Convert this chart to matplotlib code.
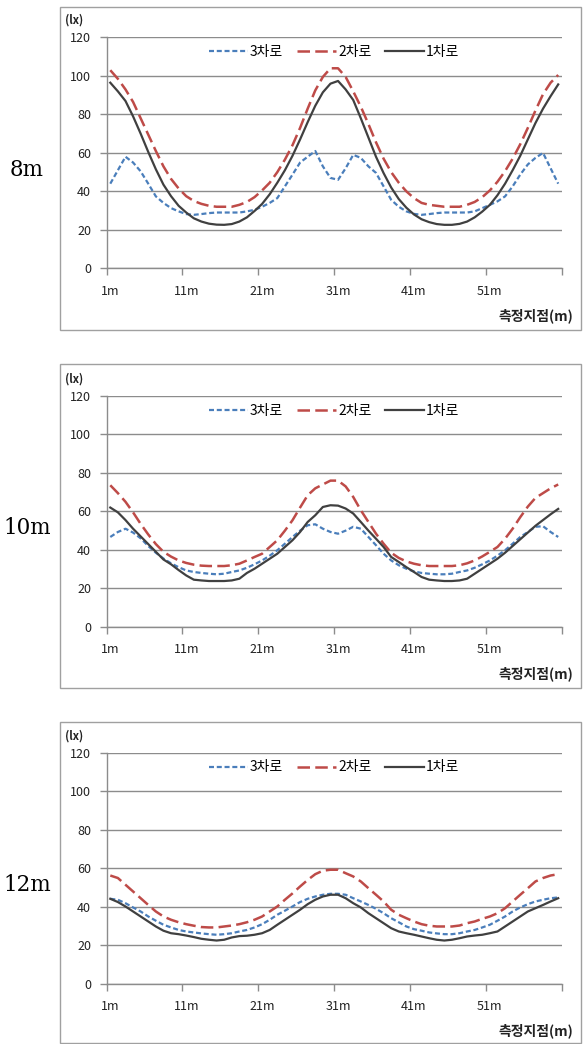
import matplotlib
matplotlib.use("Agg")
import matplotlib.pyplot as plt
from matplotlib.patches import Rectangle
import numpy as np

plt.rcParams["font.family"] = ["Noto Sans CJK KR", "DejaVu Sans"]
plt.rcParams["lines.scale_dashes"] = False

# illuminance (lx) along the measurement points 1m..60m, per pole height
points = list(range(1, 61))
heights = ["8m", "10m", "12m"]
lane_names = ["3차로", "2차로", "1차로"]
x_labels = ["1m", "11m", "21m", "31m", "41m", "51m"]
y_ticks = [0, 20, 40, 60, 80, 100, 120]

lane3_8m = [44, 51, 58, 55, 50.4, 44, 37.4, 34, 31.3, 29.6,
            28.2, 27.8, 28.2, 28.7, 29, 29, 29, 29, 29.6, 30.4,
            32, 34, 36.5, 42.6, 48.7, 55, 58, 61, 53, 47,
            46, 52, 59, 57.4, 53, 49.6, 42.6, 35.6, 32, 29.6,
            28.3, 27.8, 28.2, 28.7, 29, 29, 29, 29, 29.6, 31.3,
            33, 34.8, 37.4, 42.6, 48.7, 54, 57.4, 60, 52, 44]
lane2_8m = [103, 98.5, 93, 86.5, 78, 69.5, 61, 53, 46.5, 41.5,
            37.5, 35, 33.5, 32.5, 32, 32, 32, 33, 34.5, 37,
            40.5, 44.5, 50, 56.5, 64, 73, 83, 92.5, 99.5, 104,
            104, 99.5, 92, 84, 75, 65.5, 57, 50, 44.5, 40,
            36.5, 34, 33, 32.5, 32, 32, 32, 33, 34.5, 37,
            40.5, 45, 50.5, 57, 64.5, 73, 82, 90.5, 96.5, 100.5]
lane1_8m = [96.5, 92, 87, 79, 70, 60.5, 51.5, 43.5, 37.5, 32.5,
            29, 26, 24.3, 23.2, 22.7, 22.6, 23, 24.3, 26.5, 29.8,
            33.5, 38.5, 44.5, 51, 58.5, 67, 76, 84.5, 91.5, 96,
            97.4, 93, 87.5, 78, 68, 58, 49.5, 42, 36, 31.5,
            28, 25.5, 24, 23, 22.6, 22.6, 23.1, 24.3, 26.5, 29.5,
            33, 38, 44, 51, 58.5, 67, 75.5, 83, 89.5, 95.6]

lane3_10m = [46.7, 49.3, 51, 49, 46, 42, 38.5, 35.5, 33, 31,
             29.3, 28.5, 28, 27.6, 27.3, 27.6, 28.5, 29.3, 30.7, 32.5,
             34.5, 37, 39.8, 43.2, 46.7, 50, 52.8, 53.3, 51, 49.3,
             48.4, 50, 52, 51, 46.7, 42.4, 38, 34.5, 32, 30.2,
             28.8, 28, 27.6, 27.3, 27.3, 27.6, 28.5, 29.3, 30.7, 32.5,
             34.5, 37, 39.8, 43.2, 46.7, 49.3, 52, 52.3, 49.3, 46.7]
lane2_10m = [73.6, 69.5, 65, 59.5, 53.5, 48, 43, 39, 36.5, 34.5,
             33.2, 32.3, 31.8, 31.6, 31.6, 31.6, 32, 32.8, 34.5, 36.3,
             38, 41.5, 45, 50, 55.4, 62, 68.4, 72, 74, 76,
             76, 73, 67.5, 60.6, 54.5, 48.4, 43.2, 38.5, 35.8, 34,
             32.8, 32, 31.6, 31.6, 31.6, 31.6, 32, 33, 34.5, 36.6,
             39, 41.5, 45.8, 51, 57, 62.5, 67, 69.5, 72, 74]
lane1_10m = [62, 59.5, 55.5, 51, 47, 43, 39, 35, 32.5, 29.5,
             26.7, 24.5, 24.1, 23.8, 23.8, 23.8, 24.1, 25, 28, 30.2,
             32.8, 35.4, 38, 41.5, 45, 49.3, 54.5, 58, 62.3, 63.2,
             63, 61.5, 58.9, 54.5, 50, 45.8, 41.5, 36.3, 33.7, 31,
             28.5, 25.9, 24.5, 24.1, 23.8, 23.8, 24.1, 25, 27.6, 30.2,
             32.8, 35.4, 38.5, 42, 45.5, 49, 52.5, 55.5, 58.5, 61.3]

lane3_12m = [44.2, 43.7, 41.9, 39.7, 37.6, 35, 32.8, 30.7, 29.3, 28,
             27.2, 26.7, 26.2, 25.8, 25.5, 25.8, 26.3, 27.2, 28, 29.3,
             31, 33.3, 35.9, 38, 40.2, 42.5, 44.2, 45.4, 46.3, 46.8,
             46.8, 46.3, 44.5, 42.8, 41, 39, 36.7, 34.1, 32, 29.8,
             28.4, 27.6, 26.7, 26.2, 25.8, 25.8, 26.3, 27.2, 28, 29.3,
             30.7, 32.8, 35, 37.6, 39.7, 41.4, 42.8, 43.7, 44.5, 44.9]
lane2_12m = [56.3, 55, 51.5, 48, 44.5, 41, 37.6, 35, 33.3, 32,
             31, 30.2, 29.5, 29.3, 29.3, 29.8, 30.3, 31, 32, 33.3,
             35, 37.6, 40.2, 43.7, 47, 50.6, 54, 57, 58.8, 59.3,
             59.3, 57.5, 55.8, 53.2, 49.7, 46.3, 42.8, 38.5, 35.9, 34.1,
             32.4, 31, 30.2, 29.8, 29.8, 29.8, 30.3, 31.5, 32.4, 33.8,
             35, 36.7, 39.3, 42.8, 46.3, 49.7, 53.2, 55, 56.3, 57]
lane1_12m = [44.2, 42.5, 40.2, 37.6, 35, 32.4, 29.8, 27.6, 26.3, 25.8,
             25.1, 24.3, 23.4, 22.9, 22.5, 22.9, 24.1, 24.8, 25, 25.5,
             26.3, 28, 30.7, 33.3, 35.9, 38.5, 41.4, 43.7, 45.4, 46.3,
             46.3, 44.5, 41.9, 39.7, 36.7, 34.1, 31.5, 28.9, 27.2, 26.3,
             25.5, 24.6, 23.7, 22.9, 22.5, 22.9, 23.7, 24.6, 25.1, 25.5,
             26.3, 27.2, 29.8, 32.4, 35, 37.6, 39.3, 41, 42.8, 44.5]

panels = [
    (lane3_8m, lane2_8m, lane1_8m),
    (lane3_10m, lane2_10m, lane1_10m),
    (lane3_12m, lane2_12m, lane1_12m),
]

W, H = 583, 1044
GRID = "#8c8c8c"
lane_styles = [
    dict(color="#4a7ebb", lw=1.6, linestyle=(0, (3.6, 2.0))),
    dict(color="#be4b48", lw=1.8, linestyle=(0, (9.0, 3.8))),
    dict(color="#404040", lw=1.6, linestyle="-"),
]


def fx(px):
    return px / W


def fy(py):
    return 1 - py / H


fig = plt.figure(figsize=(W / 100, H / 100), dpi=100)

ax_left, ax_right = 106.5, 562.0
ax_tops = [37.5, 396.0, 753.0]
ax_h = 230.8
frames = [(7, 330), (364, 688), (722, 1043)]

for k, series in enumerate(panels):
    top = ax_tops[k]
    ax = fig.add_axes([fx(ax_left), fy(top + ax_h), fx(ax_right - ax_left), ax_h / H])

    for values, style, name in zip(series, lane_styles, lane_names):
        ax.plot(points, values, label=name, zorder=3, **style)

    ax.set_xlim(0.5, 60.5)
    ax.set_ylim(0, 120)
    ax.set_yticks(y_ticks)
    ax.set_xticks(np.arange(0.5, 61, 10))
    ax.set_xticklabels([])
    ax.set_xticks([1, 11, 21, 31, 41, 51], minor=True)
    ax.set_xticklabels(x_labels, minor=True)
    ax.tick_params(axis="x", which="major", direction="out", length=5, width=1, color=GRID)
    ax.tick_params(axis="x", which="minor", length=0, pad=12, labelsize=9, labelcolor="#222222")
    ax.tick_params(axis="y", direction="out", length=5, width=1, color=GRID,
                   pad=6, labelsize=9, labelcolor="#222222")

    ax.yaxis.grid(True, color=GRID, lw=1)
    ax.set_axisbelow(True)
    for side in ("top", "right"):
        ax.spines[side].set_visible(False)
    for side in ("left", "bottom"):
        ax.spines[side].set_color(GRID)
        ax.spines[side].set_linewidth(1)

    ax.legend(loc="center", bbox_to_anchor=(0.5, 1 - 14.5 / ax_h), ncol=3, frameon=False,
              fontsize=10, handlelength=2.8, handletextpad=0.15, columnspacing=1.0,
              borderaxespad=0, borderpad=0)

    y0, y1 = frames[k]
    fig.add_artist(Rectangle((fx(59.5), fy(y1)), fx(581 - 59.5), (y1 - y0) / H,
                             transform=fig.transFigure, fill=False, ec="#a0a0a0", lw=1))

    fig.text(fx(65), fy(top - 17), "(lx)", fontsize=8, fontweight="bold",
             ha="left", va="center", color="#222222")
    fig.text(fx(573), fy(top + 278), "측정지점(m)", fontsize=10, fontweight="bold",
             ha="right", va="center", color="#222222")
    fig.text(fx(27), fy(top + 132), heights[k], fontsize=15.5, family="DejaVu Serif",
             ha="center", va="center", color="black")

fig.savefig("out.png", dpi=100)
